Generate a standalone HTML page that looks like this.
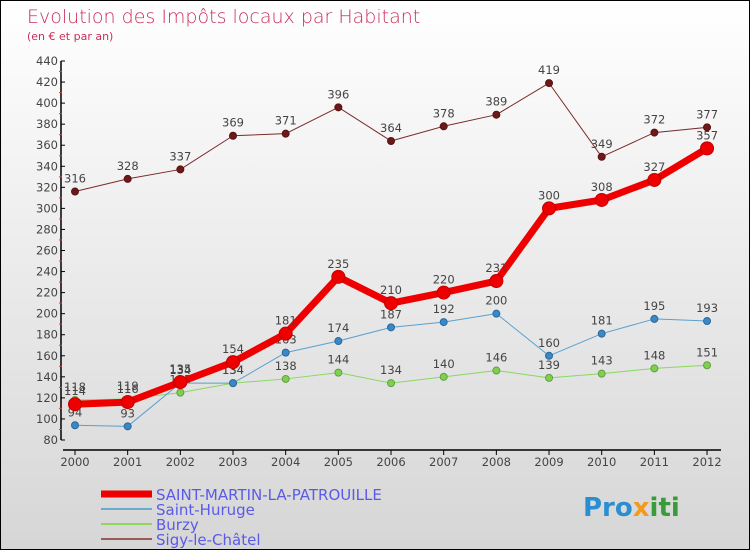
<!DOCTYPE html>
<html><head><meta charset="utf-8"><style>
body{margin:0}
#c{width:748px;height:548px;border:1px solid #000;background:linear-gradient(#fff,#d6d6d6);position:relative;font-family:"DejaVu Sans","Liberation Sans",sans-serif}
</style></head><body>
<div id="c">
<svg width="748" height="548" xmlns="http://www.w3.org/2000/svg" id="svg">
<text x="26" y="22" font-size="19" fill="#c8305a" font-family="DejaVu Sans" font-weight="200">Evolution des Impôts locaux par Habitant</text>
<text x="26" y="39" font-size="11" fill="#c8305a">(en € et par an)</text>
<g id="axes"></g><g id="series"></g><g id="legend"></g>
<text x="582" y="515" font-size="26" font-weight="bold" fill="#2a8fd0">Pro<tspan fill="#f39a1e">x</tspan><tspan fill="#3a9b3a">iti</tspan></text>
</svg></div>
<script>
const years=[2000,2001,2002,2003,2004,2005,2006,2007,2008,2009,2010,2011,2012];
const yTicks=[80,100,120,140,160,180,200,220,240,260,280,300,320,340,360,380,400,420,440];
const smlp=[114,116,135,154,181,235,210,220,231,300,308,327,357];
const huruge=[94,93,134,134,163,174,187,192,200,160,181,195,193];
const burzy=[118,119,125,134,138,144,134,140,146,139,143,148,151];
const sigy=[316,328,337,369,371,396,364,378,389,419,349,372,377];
const NS="http://www.w3.org/2000/svg";
function X(i){return 74+i*52.67;}
function Y(v){return 439-(v-80)*379/360;}
function mk(tag,attrs,parent){const e=document.createElementNS(NS,tag);for(const k in attrs)e.setAttribute(k,attrs[k]);parent.appendChild(e);return e;}
const ax=document.getElementById('axes');
let e=mk('line',{x1:60,y1:Y(440),x2:60,y2:Y(80),stroke:'#000','stroke-width':1.5},ax);

yTicks.forEach((t,i)=>{
 mk('line',{x1:60,y1:Y(t),x2:64,y2:Y(t),stroke:'#000'},ax);
 if(i<yTicks.length-1)mk('line',{x1:58,y1:Y(t+10),x2:61,y2:Y(t+10),stroke:'#e33'},ax);
 const tx=mk('text',{x:57,y:Y(t)+4,'font-size':11.5,fill:'#444','text-anchor':'end'},ax);tx.textContent=t;
 
});
e=mk('line',{x1:62,y1:449,x2:720,y2:449,stroke:'#000','stroke-width':1.5},ax);

years.forEach((yr,i)=>{
 mk('line',{x1:X(i),y1:449,x2:X(i),y2:454,stroke:'#000'},ax);
 const tx=mk('text',{x:X(i),y:465,'font-size':11.5,fill:'#444','text-anchor':'middle'},ax);tx.textContent=yr;
 
});
const sg=document.getElementById('series');
function draw(data,name,color,w,r,fill,stroke){
 const g=mk('g',{},sg);
 
 mk('polyline',{points:data.map((v,i)=>X(i)+','+Y(v)).join(' '),fill:'none',stroke:color,'stroke-width':w,'stroke-linejoin':'round'},g);
 data.forEach((v,i)=>{
  const c=mk('circle',{cx:X(i),cy:Y(v),r:r,fill:fill,stroke:stroke,'stroke-width':1},g);
  
  const t=mk('text',{x:X(i),y:Y(v)-9,'font-size':11.5,fill:'#444','text-anchor':'middle'},g);t.textContent=v;
  
 });
}
draw(sigy,'sigy','#7a2a2a',1,3.5,'#6a1a1a','#5a1010');
draw(burzy,'burzy','#88d860',1,3.5,'#80d050','#60a040');
draw(huruge,'saint-huruge','#5aa0d0',1,3.5,'#3a88c8','#2a6898');
draw(smlp,'saint-martin','#ee0000',7,6.5,'#ee0000','#c00000');
const lg=document.getElementById('legend');
[['SAINT-MARTIN-LA-PATROUILLE','#ee0000',7],['Saint-Huruge','#6aaad0',2],['Burzy','#8ed860',2],['Sigy-le-Châtel','#9a5a5a',2]].forEach((d,i)=>{
 const y=493+i*15;
 const g=mk('g',{},lg);
 mk('line',{x1:100,y1:y,x2:151,y2:y,stroke:d[1],'stroke-width':d[2]},g);
 const t=mk('text',{x:155,y:y+6,'font-size':15,fill:'#5a5ae8'},g);t.textContent=d[0];
});
</script>
</body></html>
